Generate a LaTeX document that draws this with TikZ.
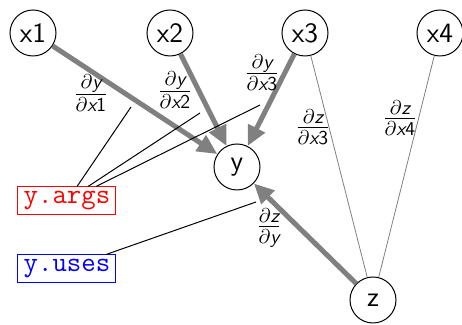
\documentclass[tikz,border=0pt]{standalone}
\usetikzlibrary{arrows.meta}
\DeclareMathAlphabet{\mathsfit}{TU}{lmss}{m}{sl}
\DeclareMathAlphabet{\mathsfup}{TU}{lmss}{m}{n}
\newcommand{\pd}[2]{$\frac{\partial\mathsfit{#1}}{\partial\mathsfit{#2}}$}
\newcommand{\pdn}[3]{$\frac{\partial\mathsfit{#1}}{\partial\mathsfit{#2}\mathsfup{#3}}$}
\begin{document}
\begin{tikzpicture}[x=0.5pt,y=-0.5pt,
  font=\fontsize{14}{16}\selectfont\sffamily,
  var/.style={circle,draw,line width=0.5pt,minimum size=23pt,inner sep=0pt},
  grad/.style={draw=gray,line width=2.5pt,-{Triangle[length=10pt,width=9pt]}},
  thin/.style={draw=gray,line width=0.4pt},
  lbl/.style={inner sep=0pt},
  ptr/.style={draw=black,line width=0.5pt},
  tbox/.style={draw,line width=0.5pt,font=\fontsize{14}{16}\selectfont\ttfamily,minimum width=49pt,minimum height=14pt,inner sep=1pt}]
\useasboundingbox (0,0) rectangle (462,325);
\node[var] (x1) at (33,33) {x1};
\node[var] (x2) at (170,33) {x2};
\node[var] (x3) at (305,33) {x3};
\node[var] (x4) at (440,33) {x4};
\node[var] (y) at (237,167) {y};
\node[var] (z) at (373,300) {z};
\draw[thin] (x3) -- (z);
\draw[thin] (x4) -- (z);
\draw[grad] (x1) -- (y);
\draw[grad] (x2) -- (y);
\draw[grad] (x3) -- (y);
\draw[grad] (z) -- (y);
\node[lbl] (l1) at (91,93) {\pdn{y}{x}{1}};
\node[lbl] (l2) at (175,90) {\pdn{y}{x}{2}};
\node[lbl] (l3) at (262,73) {\pdn{y}{x}{3}};
\node[lbl] (l4) at (313,127) {\pdn{z}{x}{3}};
\node[lbl] (l5) at (400,118) {\pdn{z}{x}{4}};
\node[lbl] (l6) at (269,228) {\pd{z}{y}};
\node[tbox,draw=red,text=red] (args) at (67,201) {y.args};
\node[tbox,draw=blue,text=blue] (uses) at (67,269) {y.uses};
\coordinate (p1) at (131,107);
\coordinate (p2) at (200,113);
\coordinate (p3) at (260,105);
\coordinate (p4) at (256,202);
\draw[ptr] ([xshift=5pt]args.north) -- (p1);
\draw[ptr] ([xshift=10.5pt]args.north) -- (p2);
\draw[ptr] ([xshift=14.5pt]args.north) -- (p3);
\draw[ptr] ([xshift=19.5pt]uses.north) -- (p4);
\end{tikzpicture}
\end{document}
